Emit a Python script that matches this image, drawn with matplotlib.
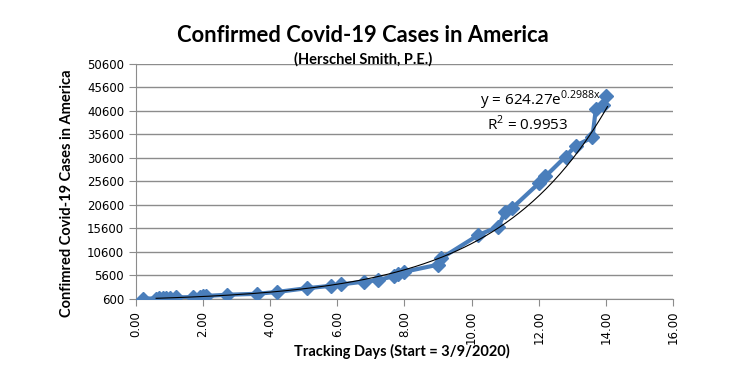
import numpy as np
import matplotlib.pyplot as plt
from matplotlib.ticker import FormatStrFormatter

# tracking days since 3/9/2020 and confirmed cases
days = [0.2, 0.6, 0.7, 0.8, 0.9, 1.0, 1.2, 1.7, 1.9, 2.0, 2.1, 2.7, 3.6, 4.2,
        5.1, 5.8, 6.1, 6.8, 7.2, 7.7, 7.8, 8.0, 9.0, 9.1, 10.2, 10.8, 11.0,
        11.2, 12.0, 12.2, 12.8, 13.1, 13.6, 13.7, 13.9, 14.0]
cases = [700, 700, 720, 740, 760, 780, 950, 1000, 1100, 1200, 1250, 1500,
         1700, 2100, 2900, 3400, 3700, 4300, 4600, 5500, 5900, 6400, 7900,
         9300, 14200, 16000, 19200, 19900, 25200, 26700, 30900, 33200, 35000,
         41000, 41900, 43800]

# exponential trendline shown on the chart
fit_a = 624.27
fit_b = 0.2988
fit_range = (0.6, 14.05)

y_ticks = list(range(600, 50601, 5000))
x_ticks = list(range(0, 17, 2))

BLUE = '#4a7ebb'
GRID = '#8c8c8c'

fig = plt.figure(figsize=(7.3, 3.78), dpi=100)
ax = fig.add_axes([0.1863, 0.209, 0.7356, 0.6217])

ax.plot(days, cases, color=BLUE, lw=3, marker='D', ms=7, mec=BLUE, mfc=BLUE, zorder=3)

xf = np.linspace(fit_range[0], fit_range[1], 200)
ax.plot(xf, fit_a * np.exp(fit_b * xf), color='black', lw=0.8, zorder=4)

ax.set_xlim(0, 16)
ax.set_ylim(600, 50600)
ax.set_xticks(x_ticks)
ax.set_yticks(y_ticks)
ax.xaxis.set_major_formatter(FormatStrFormatter('%.2f'))
ax.grid(axis='y', color=GRID, lw=1)
ax.set_axisbelow(True)
for s in ['top', 'right']:
    ax.spines[s].set_visible(False)
for s in ['left', 'bottom']:
    ax.spines[s].set_color(GRID)
ax.tick_params(axis='both', colors=GRID, length=5, labelcolor='black', labelsize=8.5)
ax.tick_params(axis='x', labelrotation=90)

ax.text(0.754, 0.847, r'y = 624.27e$^{\mathregular{0.2988x}}$', transform=ax.transAxes,
        ha='center', va='center', fontsize=11, family='Open Sans')
ax.text(0.73, 0.745, r'R$^{\mathregular{2}}$ = 0.9953', transform=ax.transAxes,
        ha='center', va='center', fontsize=11, family='Open Sans')

fig.text(0.497, 0.907, 'Confirmed Covid-19 Cases in America', ha='center', va='center',
         fontsize=15.8, fontweight='bold', family='Lato')
fig.text(0.497, 0.843, '(Herschel Smith, P.E.)', ha='center', va='center',
         fontsize=10.5, fontweight='bold', family='Lato')
fig.text(0.092, 0.489, 'Confimred Covid-19 Cases in America', rotation=90,
         ha='center', va='center', fontsize=10.5, fontweight='bold', family='Lato')
fig.text(0.55, 0.069, 'Tracking Days (Start = 3/9/2020)', ha='center', va='center',
         fontsize=10.5, fontweight='bold', family='Lato')

fig.savefig('out.png', dpi=100)
